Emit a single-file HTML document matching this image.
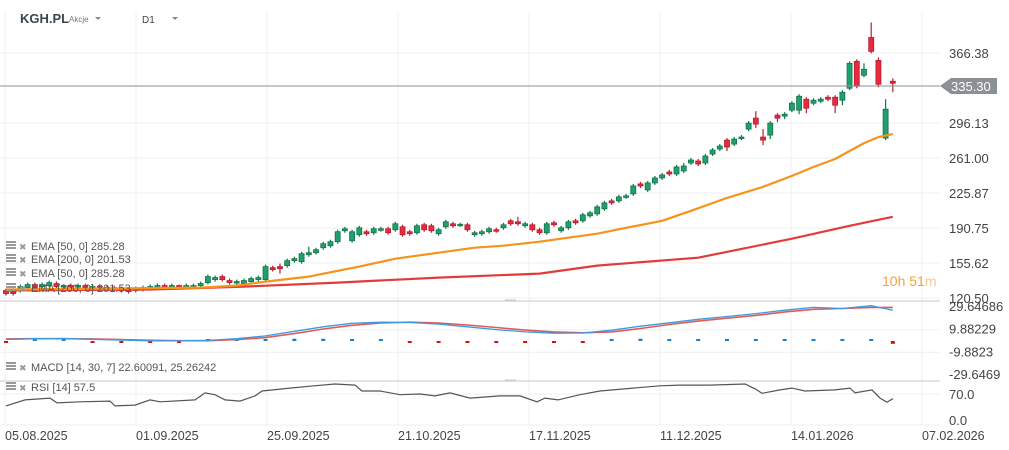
<!DOCTYPE html>
<html><head><meta charset="utf-8">
<style>
html,body{margin:0;padding:0;background:#fff;width:1009px;height:450px;overflow:hidden;font-family:"Liberation Sans",sans-serif;}
svg{display:block}
</style></head>
<body>
<svg id="chart" width="1009" height="450" xmlns="http://www.w3.org/2000/svg">
<g id="grid"></g>
<g id="candles"></g>
<g id="emas"></g>
<g id="macd"></g>
<g id="rsi"></g>
<g id="axes"></g>
<g>
  <text x="20" y="23" font-size="13" font-weight="bold" fill="#3b4550">KGH.PL</text>
  <text x="69" y="22" font-size="8" fill="#777">Akcje</text>
  <path d="M95 17 L101 17 L98 20 Z" fill="#888"/>
  <text x="142" y="23" font-size="10" fill="#444">D1</text>
  <path d="M172 17 L178 17 L175 20 Z" fill="#888"/>
</g>
<g id="legend"></g>
<g>
  <line x1="0" y1="86" x2="940" y2="86" stroke="#8a9096" stroke-width="1"/>
  <path d="M940 86 L951 78 L997 78 L997 94 L951 94 Z" fill="#8a9096"/>
  <text x="951" y="91" font-size="13" fill="#fff">335.30</text>
</g>
<text x="882" y="286" font-size="14" fill="#f7a23a">10h <tspan>51</tspan><tspan fill="#f5c98f">m</tspan></text>
</svg>
<script>
const opens=[128,127,128,131,134,132,133,135,132,133,132,133,131,132,131,131,130,129,128,129,130,131,133,132,133,132,132,133,136,139,142,138,136,135,137,139,139,151,152,153,158,157,164,166,171,173,177,188,178,184,187,186,189,190,189,192,187,186,194,193,185,192,195,194,194,184,185,187,189,191,198,197,193,194,189,186,196,188,191,198,198,203,205,210,218,218,222,225,235,229,236,241,247,245,248,256,258,256,265,270,279,275,281,290,301,282,284,304,303,309,309,320,316,318,322,322,319,331,358,344,382,359,281,338];
const closes=[125,125,132,134,131,134,136,132,133,132,133,131,132,131,130,129,128,127,130,131,132,133,132,133,132,133,133,135,142,141,139,136,137,138,140,141,152,149,150,158,160,165,166,169,175,177,187,190,187,191,185,190,190,186,195,184,185,193,189,188,189,197,193,194.5,189,186,187,190,188,194,195,195,195,189,186,195,194,191,197,196,204,206,212,216,216,222,223,233,233,236,241,244,245,252,253,259,255,263,269,273,272,280,282,296,295,279,296,301,305,316,323,311,319,320,320,314,327,356,333,350,368,335,310,336];
const highs=[130,129,134,136,136,136,138,137,134,135,135,135,134,134,133,133,132,131,132,133,134,135,135,135,134,135,135,137,144,143,144,140,139,140,142,143,154,153,155,160,162,167,172,171,177,179,189,192,189,193,189,192,192,192,197,194,189,195,196,195,191,199,197,196,196,188,189,192,191,196,200,202,197,196,191,197,198,193,199,200,206,208,214,218,220,224,225,235,237,238,243,246,249,254,256,261,260,265,271,275,281,282,284,298,308,290,298,306,307,318,325,322,321,322,324,324,329,358,360,356,397,362,320,341];
const lows=[123,123,126,129,129,130,131,130,130,130,130,129,129,129,128,127,126,125,126,127,128,129,130,130,130,130,130,131,134,137,137,134,134,133,135,137,137,147,145,151,156,155,162,164,169,171,175,186,176,182,183,184,187,184,187,182,183,184,187,186,183,190,191,192,187,182,183,185,186,189,193,193,191,187,184,184,192,186,189,194,196,201,203,208,214,216,220,223,231,227,234,239,243,243,246,254,253,254,263,268,268,273,279,288,291,274,280,297,300,307,305,306,314,316,318,306,314,329,331,342,366,332,279,327];
const ema50Idx=[0,14,27,32,36,42,49,54,60,65,69,74,79,82,86,91,95,100,105,109,112,115,117,119,121,123];
const ema50Val=[129,130,131,133,137,142,152,160,166,171,173,177,182,185,191,198,208,221,232,243,252,260,268,276,282,285];
const ema200Idx=[0,20,33,46,60,74,82,96,109,117,123];
const ema200Val=[128,129,132,136,141,145,153,161,180,193,202];
const macdIdx=[0,4,8,12,16,20,24,28,32,36,40,44,48,52,56,60,64,68,72,76,80,84,88,92,96,100,104,108,112,116,120,123];
const macdVal=[1.3,2.0,2.2,1.5,0.8,0.2,0.1,0.5,2,4.5,8.5,12.5,15.5,16.5,16.2,14.8,12.5,10,8,6.8,7,9.5,13,16,19,21.5,24,27,29.5,28.5,31,27];
const signalVal=[1.8,2.0,2.0,1.8,1.2,0.6,0.3,0.3,1.2,3,6.5,10.5,13.8,15.8,16.5,15.8,14,11.8,9.6,8,7.2,8,11,14.5,17.5,20,22.5,25.5,27.8,28.5,29.5,29.5];
const rsiX=[6,25,50,57,80,110,115,135,150,160,195,205,215,225,240,255,262,290,310,335,355,362,380,400,420,435,450,470,500,520,537,545,558,580,600,633,660,680,710,745,755,762,780,792,805,835,850,855,872,880,887,893];
const rsiVal=[38,54,59,46,49,51,38,40,54,49,54,73,68,54,51,65,78,86,91,97,94,78,78,68,70,65,73,59,65,65,49,59,54,68,78,86,92,94,94,97,84,72,81,86,78,81,86,73,81,59,48,57.5];
const priceTicks=[366.38,296.13,261.00,225.87,190.75,155.62,120.50];
const macdTicks=[29.64686,9.88229,-9.8823,-29.6469];
const macdTickLabels=["29.64686","9.88229","-9.8823","-29.6469"];
const rsiTicks=[70,0];
const dateLabels=["05.08.2025","01.09.2025","25.09.2025","21.10.2025","17.11.2025","11.12.2025","14.01.2026","07.02.2026"];

const NS="http://www.w3.org/2000/svg";
function mk(tag,attrs,parent){const e=document.createElementNS(NS,tag);for(const k in attrs)e.setAttribute(k,attrs[k]);parent.appendChild(e);return e;}
const xOf=i=>6+i*7.21;
const yP=p=>53+(366.38-p)*0.9965;
const yM=v=>341-v*1.14;
const yR=r=>420-r*(26/70);

const grid=document.getElementById('grid');
dateLabels.forEach((d,i)=>{const x=5+i*131;
  const l=mk('line',{x1:x,y1:12,x2:x,y2:425,stroke:'#efefef','stroke-width':1},grid);
  
  });
priceTicks.forEach(p=>{const l=mk('line',{x1:0,y1:yP(p),x2:940,y2:yP(p),stroke:'#efefef'},grid);
  
  });
[yM(9.88229),yM(-9.8823),yR(70)].forEach(y=>{const l=mk('line',{x1:0,y1:y,x2:940,y2:y,stroke:'#efefef'},grid);
  
  });
[301,381].forEach(y=>{const l=mk('line',{x1:0,y1:y,x2:940,y2:y,stroke:'#dcdcdc','stroke-width':1.5},grid);
  
  
  const h=mk('rect',{x:505,y:y-1.5,width:11,height:2,fill:'#ccc'},grid);
  
  });
mk('line',{x1:0,y1:425,x2:940,y2:425,stroke:'#efefef'},grid);

const cg=document.getElementById('candles');
for(let i=0;i<opens.length;i++){
  const up=closes[i]>=opens[i];const x=xOf(i);
  const fill=up?'#1fa06c':'#e82a3e',st=up?'#11734b':'#b51e2f';
  const w=mk('line',{x1:x,y1:yP(highs[i]),x2:x,y2:yP(lows[i]),stroke:st,'stroke-width':1.2},cg);
  
  
  const t=yP(Math.max(opens[i],closes[i])),b=yP(Math.min(opens[i],closes[i]));
  const r=mk('rect',{x:x-2.5,y:t,width:5,height:Math.max(1.5,b-t),fill:fill,stroke:st,'stroke-width':0.8},cg);
  
  
}
const eg=document.getElementById('emas');
function pts(ix,vals,yf){return ix.map((k,j)=>xOf(k).toFixed(1)+','+yf(vals[j]).toFixed(1)).join(' ');}
const e2=mk('polyline',{points:pts(ema200Idx,ema200Val,yP),fill:'none',stroke:'#e33b3b','stroke-width':2.2,'stroke-linejoin':'round'},eg);


const e1=mk('polyline',{points:pts(ema50Idx,ema50Val,yP),fill:'none',stroke:'#f7931a','stroke-width':2.2,'stroke-linejoin':'round'},eg);



const mg=document.getElementById('macd');
macdIdx.forEach((k,j)=>{const h=macdVal[j]-signalVal[j];const x=xOf(k);
  const hh=Math.max(2,Math.abs(h)*1.14);
  const r=mk('rect',{x:x-2,y:h>=0?341-hh:341,width:4,height:hh,fill:h>=0?'#1a7fcf':'#d0141a'},mg);
  
  });
const ms=mk('polyline',{points:pts(macdIdx,signalVal,yM),fill:'none',stroke:'#e05a5a','stroke-width':1.6},mg);


const ml=mk('polyline',{points:pts(macdIdx,macdVal,yM),fill:'none',stroke:'#3a9be0','stroke-width':1.3},mg);



const rg=document.getElementById('rsi');
const rl=mk('polyline',{points:rsiX.map((x,j)=>x+','+yR(rsiVal[j]).toFixed(1)).join(' '),fill:'none',stroke:'#555','stroke-width':1.2},rg);



const ag=document.getElementById('axes');
function txt(x,y,s,name,size,fill,parent){const t=mk('text',{x:x,y:y,'font-size':size||12,fill:fill||'#444'},parent||ag);t.textContent=s;
  
  return t;}
priceTicks.forEach(p=>txt(949,yP(p)+5,p.toFixed(2),'price-tick-label',13));
macdTicks.forEach((v,j)=>txt(949,yM(v)+4,macdTickLabels[j],'macd-tick-label',13));
rsiTicks.forEach(r=>txt(949,yR(r)+5,r.toFixed(1),'rsi-tick-label',13));
dateLabels.forEach((d,i)=>txt(5+i*131,440,d,'date-tick-label',12.5));

const lg=document.getElementById('legend');
function legend(y,s,name){
  const ic=mk('g',{},lg);
  
  
  mk('rect',{x:6,y:y-8,width:10,height:2,fill:'#999'},ic);
  mk('rect',{x:6,y:y-5,width:10,height:2,fill:'#999'},ic);
  mk('rect',{x:6,y:y-2,width:10,height:2,fill:'#999'},ic);
  const x=txt(19,y+1,'✖',name+'-remove-icon',9,'#999',lg);
  
  txt(31,y+1,s,name,11,'#555',lg);}
legend(249,'EMA  [50,  0] 285.28','legend-ema50');
legend(262,'EMA  [200,  0] 201.53','legend-ema200');
legend(276,'EMA  [50,  0] 285.28','legend-ema50-2');
legend(291,'EMA  [200,  0] 201.53','legend-ema200-2');
legend(370,'MACD  [14, 30, 7] 22.60091,   25.26242','legend-macd');
legend(390,'RSI  [14]  57.5','legend-rsi');
</script>
</body></html>
